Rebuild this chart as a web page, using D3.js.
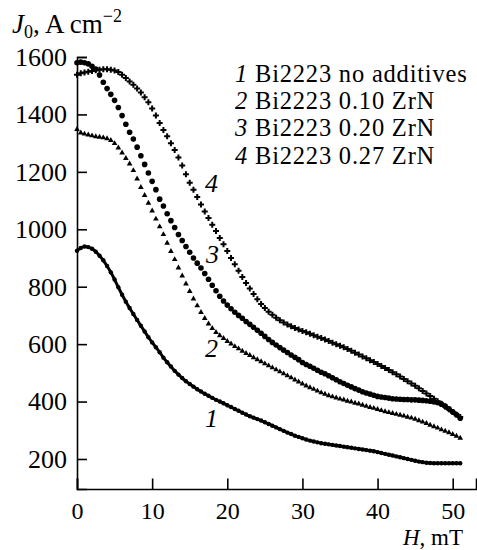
<!DOCTYPE html>
<html><head><meta charset="utf-8">
<script src="https://cdn.jsdelivr.net/npm/d3@7"></script>
<style>
body{margin:0;background:#fff;}
svg text{font-family:"Liberation Serif","Times New Roman",serif;fill:#000;}
</style></head><body>
<svg id="c" width="477" height="550"></svg>
<script>
// H, mT sampled every 0.5 mT from 0 to 51
const hStep = 0.5;
const xTicks = [0,10,20,30,40,50];
const yTicks = [200,400,600,800,1000,1200,1400,1600];
const seriesNames = ["1","2","3","4"];
const legendLabels = ["Bi2223 no additives","Bi2223 0.10 ZrN","Bi2223 0.20 ZrN","Bi2223 0.27 ZrN"];

const j1 = [925,935,940,938,932,922,908,892,872,850,825,798,772,748,726,705,684,664,644,624,606,589,572,553,537,522,507,494,482,471,461,452,443,435,427,420,413,406,400,394,387,381,374,368,361,355,349,344,339,334,328,322,316,310,304,298,292,287,281,277,272,268,264,261,258,255,253,251,249,247,245,243,241,239,237,235,233,231,229,227,224,221,218,215,212,209,206,203,200,197,194,191,189,187,186,185,185,185,185,185,185,185,185];
const j2 = [1348,1336,1332,1329,1326,1323,1321,1319,1316,1310,1299,1284,1266,1247,1228,1205,1176,1146,1118,1091,1064,1036,1009,982,952,923,895,866,838,810,784,758,734,711,690,671,655,641,630,620,610,601,592,584,576,568,561,553,546,539,532,525,518,511,504,497,490,483,476,469,462,455,449,443,437,431,426,421,417,413,409,406,402,399,395,392,388,384,380,377,373,369,365,362,359,356,353,350,346,343,339,334,329,324,318,313,308,302,297,292,286,280,273];
const j3 = [1580,1582,1580,1576,1568,1558,1537,1512,1490,1470,1449,1424,1396,1366,1338,1314,1286,1256,1226,1196,1167,1138,1105,1081,1054,1030,1006,982,961,940,920,900,882,865,846,826,805,786,767,750,736,723,711,700,690,679,669,659,648,638,627,616,606,597,588,579,571,562,554,546,536,529,523,516,509,502,497,490,483,476,469,463,457,451,445,440,434,430,426,422,418,416,414,412,410,409,408,407,407,406,406,405,404,403,401,399,396,391,384,375,364,354,342];
const j4 = [1538,1543,1546,1549,1551,1554,1556,1557,1557,1556,1553,1548,1538,1527,1515,1503,1490,1476,1460,1442,1421,1396,1370,1346,1324,1300,1276,1250,1222,1192,1162,1138,1112,1086,1062,1039,1016,994,970,948,924,900,878,856,834,813,794,775,756,740,726,713,702,692,683,675,668,662,656,651,646,641,636,631,626,621,616,611,605,600,594,589,583,577,570,564,557,551,544,538,531,524,517,510,502,495,487,479,471,463,455,446,437,428,419,410,401,392,382,373,364,355,346];

const svg = d3.select("#c");
const x = d3.scaleLinear().domain([0,53.1]).range([77,476]);
const y = d3.scaleLinear().domain([95.5,1600]).range([489,57]);

const toPts = arr => arr.map((v,i)=>({h:i*hStep, v}));

// axes
const xAxis = d3.axisBottom(x).tickValues(xTicks).tickSize(-10.5).tickPadding(13).tickFormat(d3.format("d"));
const gx = svg.append("g").attr("transform","translate(0,489)").call(xAxis);
gx.select(".domain").attr("stroke","#000").attr("stroke-width",1.6);
gx.selectAll(".tick line").attr("stroke","#000").attr("stroke-width",1.6);
gx.selectAll(".tick text").attr("font-size",24).attr("font-family","Liberation Serif").attr("dy","0.71em");

const yAxis = d3.axisLeft(y).tickValues(yTicks).tickSize(-10).tickPadding(10).tickFormat(d3.format("d"));
const gy = svg.append("g").attr("transform","translate(77,0)").call(yAxis);
gy.select(".domain").attr("stroke","#000").attr("stroke-width",1.6);
gy.selectAll(".tick line").attr("stroke","#000").attr("stroke-width",1.6);
gy.selectAll(".tick text").attr("font-size",26).attr("font-family","Liberation Serif");

// curves
const line = d3.line().x(d=>x(d.h)).y(d=>y(d.v)).curve(d3.curveMonotoneX);
const p1 = toPts(j1);
svg.append("path").datum(p1).attr("d",line).attr("fill","none").attr("stroke","#000").attr("stroke-width",3);
svg.append("g").selectAll("circle").data(p1).join("circle")
  .attr("cx",d=>x(d.h)).attr("cy",d=>y(d.v)).attr("r",2.2).attr("fill","#000");

const tri = d3.symbol().type(d3.symbolTriangle).size(14);
svg.append("g").selectAll("path").data(toPts(j2)).join("path")
  .attr("d",tri).attr("transform",d=>`translate(${x(d.h)},${y(d.v)})`).attr("fill","#000");

svg.append("g").selectAll("circle").data(toPts(j3)).join("circle")
  .attr("cx",d=>x(d.h)).attr("cy",d=>y(d.v)).attr("r",2.8).attr("fill","#000");

const crs = d3.symbol().type(d3.symbolCross).size(20);
svg.append("g").selectAll("path").data(toPts(j4)).join("path")
  .attr("d",crs).attr("transform",d=>`translate(${x(d.h)},${y(d.v)})`).attr("fill","#000");

// curve number labels
const numPos = [[205,427],[205,357],[206,263],[205,192]];
seriesNames.forEach((n,i)=>{
  svg.append("text").attr("x",numPos[i][0]).attr("y",numPos[i][1])
    .attr("font-size",26).attr("font-style","italic").text(n);
});

// legend
const lg = svg.append("g");
legendLabels.forEach((t,i)=>{
  const tx = lg.append("text").attr("x",235).attr("y",82+i*27.2).attr("font-size",24.5).attr("letter-spacing",0.8);
  tx.append("tspan").attr("font-style","italic").text(seriesNames[i]);
  tx.append("tspan").text(" " + t);
});

// axis titles
const yt = svg.append("text").attr("x",12).attr("y",33).attr("font-size",27);
yt.append("tspan").attr("font-style","italic").text("J");
yt.append("tspan").attr("font-size",18).attr("dy",5).text("0");
yt.append("tspan").attr("dy",-5).text(", A cm");
yt.append("tspan").attr("font-size",18).attr("dy",-11).text("−2");

const xt = svg.append("text").attr("x",463).attr("y",545).attr("font-size",23).attr("text-anchor","end");
xt.append("tspan").attr("font-style","italic").text("H");
xt.append("tspan").text(", mT");
</script>
</body></html>
